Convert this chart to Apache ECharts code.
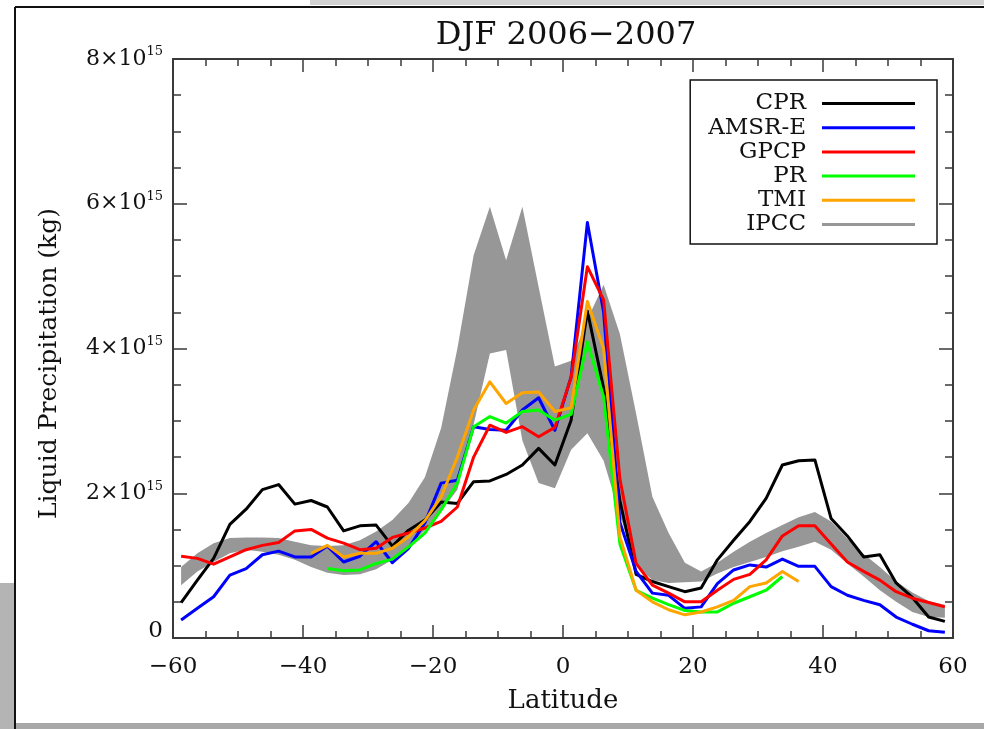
<!DOCTYPE html>
<html>
<head>
<meta charset="utf-8">
<script src="https://cdn.jsdelivr.net/npm/echarts@6/dist/echarts.min.js"></script>
<style>html,body{margin:0;padding:0;background:#fff;}#c{width:984px;height:729px;}</style>
</head>
<body>
<div id="c"></div>
<script>
// Latitude bin centres (degrees)
const latitudes = [-58.75,-56.25,-53.75,-51.25,-48.75,-46.25,-43.75,-41.25,-38.75,-36.25,-33.75,-31.25,-28.75,-26.25,-23.75,-21.25,-18.75,-16.25,-13.75,-11.25,-8.75,-6.25,-3.75,-1.25,1.25,3.75,6.25,8.75,11.25,13.75,16.25,18.75,21.25,23.75,26.25,28.75,31.25,33.75,36.25,38.75,41.25,43.75,46.25,48.75,51.25,53.75,56.25,58.75];
// Values in units of 10^15 kg
const cpr  = [0.49,0.80,1.10,1.57,1.78,2.05,2.12,1.85,1.90,1.81,1.48,1.55,1.56,1.27,1.49,1.63,1.88,1.86,2.16,2.17,2.26,2.39,2.62,2.39,3.01,4.52,3.45,1.90,0.88,0.78,0.71,0.64,0.69,1.08,1.35,1.61,1.93,2.39,2.45,2.46,1.65,1.41,1.12,1.15,0.76,0.56,0.29,0.23];
const amsre = [0.25,0.41,0.57,0.87,0.96,1.15,1.20,1.12,1.12,1.27,1.05,1.13,1.33,1.04,1.24,1.59,2.14,2.18,2.92,2.88,2.87,3.15,3.32,2.87,3.61,5.74,4.50,1.60,0.92,0.62,0.59,0.41,0.43,0.75,0.94,1.01,0.98,1.09,0.99,0.99,0.71,0.59,0.52,0.46,0.29,0.19,0.10,0.08];
const gpcp = [1.13,1.10,1.02,1.12,1.22,1.28,1.32,1.48,1.50,1.38,1.31,1.22,1.24,1.39,1.45,1.52,1.61,1.81,2.50,2.94,2.84,2.92,2.78,2.91,3.60,5.13,4.67,2.20,1.03,0.73,0.62,0.50,0.50,0.66,0.81,0.88,1.08,1.41,1.55,1.55,1.30,1.05,0.92,0.80,0.64,0.55,0.49,0.43];
const pr   = [null,null,null,null,null,null,null,null,null,0.96,0.93,0.94,1.03,1.09,1.26,1.45,1.77,2.14,2.92,3.06,2.97,3.13,3.15,3.01,3.09,4.09,3.33,1.30,0.66,0.55,0.46,0.38,0.36,0.36,0.48,0.57,0.66,0.85,null,null,null,null,null,null,null,null,null,null];
const tmi  = [null,null,null,null,null,null,null,null,1.17,1.28,1.12,1.17,1.17,1.24,1.40,1.62,1.95,2.50,3.15,3.54,3.24,3.39,3.40,3.13,3.18,4.65,4.00,1.40,0.66,0.50,0.39,0.32,0.36,0.43,0.52,0.71,0.76,0.92,0.78,null,null,null,null,null,null,null,null,null];
const ipccLow  = [0.73,0.92,1.05,1.17,1.22,1.19,1.15,1.08,0.98,0.90,0.87,0.88,0.95,1.08,1.26,1.49,1.75,2.05,2.95,3.93,3.98,2.73,2.14,2.07,2.60,2.83,2.45,1.70,1.00,0.80,0.76,0.77,0.78,0.89,0.98,1.05,1.12,1.20,1.26,1.33,1.22,1.03,0.85,0.66,0.50,0.36,0.29,0.28];
const ipccHigh = [0.98,1.17,1.31,1.38,1.39,1.39,1.38,1.33,1.28,1.27,1.28,1.35,1.47,1.63,1.87,2.22,2.90,4.00,5.29,5.96,5.22,5.96,4.85,3.75,3.83,4.40,4.88,4.20,3.10,1.95,1.45,1.04,0.92,1.04,1.19,1.33,1.45,1.56,1.67,1.74,1.61,1.37,1.16,0.98,0.78,0.63,0.51,0.46];
const xTicks = [-60,-40,-20,0,20,40,60];
const yTicks = [0,2,4,6,8];

const pts = arr => latitudes.map((x,i)=>[x,arr[i]]).filter(p=>p[1]!==null);

const FONT = 'DejaVu Serif';
const GRAY = '#979797';
const AX = '#3a3a3a';

const chart = echarts.init(document.getElementById('c'), null, {renderer:'canvas'});
function xAx(pos, labels){
  return {type:'value', position:pos, min:-60, max:60, interval:20,
    axisLine:{show:true, onZero:false, lineStyle:{color:AX, width:2}},
    axisTick:{show:true, inside:true, length:13, lineStyle:{color:AX, width:1.5}},
    minorTick:{show:true, splitNumber:4, length:7, lineStyle:{color:AX, width:1.5}},
    splitLine:{show:false}, minorSplitLine:{show:false},
    axisLabel:{show:labels, margin:18, color:'#111', fontFamily:FONT, fontSize:23,
      formatter: v => xTicks.includes(v) ? (v<0 ? '\u2212'+Math.abs(v) : String(v)) : ''},
    name: labels ? 'Latitude' : '', nameLocation:'middle', nameGap:50,
    nameTextStyle:{fontFamily:FONT, fontSize:26, color:'#111'}};
}
function yAx(pos, labels){
  return {type:'value', position:pos, min:0, max:8, interval:2,
    axisLine:{show:true, onZero:false, lineStyle:{color:AX, width:2}},
    axisTick:{show:true, inside:true, length:14, lineStyle:{color:AX, width:1.5}},
    minorTick:{show:true, splitNumber:4, length:8, lineStyle:{color:AX, width:1.5}},
    splitLine:{show:false}, minorSplitLine:{show:false},
    axisLabel:{show:labels, margin:10, color:'#111', fontFamily:FONT,
      formatter: v => yTicks.includes(v) ? (v===0 ? '{z|0}' : '{b|'+v+'\u00d710}{s|15}') : '',
      rich:{
        b:{fontFamily:FONT, fontSize:22, color:'#111'},
        s:{fontFamily:FONT, fontSize:13, color:'#111', padding:[0,0,14,0]},
        z:{fontFamily:FONT, fontSize:23, color:'#111', padding:[0,0,14,0]}
      }},
    name: labels ? 'Liquid Precipitation (kg)' : '', nameLocation:'middle', nameGap:111,
    nameTextStyle:{fontFamily:FONT, fontSize:25, color:'#111', padding:[0,30,0,0]}};
}
function line(name, arr, color){
  return {name, type:'line', data:pts(arr), xAxisIndex:0, yAxisIndex:0, symbol:'none',
    lineStyle:{color, width:3, join:'round'}, itemStyle:{color}, z:3, connectNulls:false};
}
const option = {
  animation:false,
  backgroundColor:'#fff',
  title:{text:'DJF 2006\u22122007', left:561, top:15, textAlign:'center',
    textStyle:{fontFamily:FONT, fontSize:32, fontWeight:'normal', color:'#111'}},
  grid:{left:173, right:31, top:59, bottom:91, containLabel:false},
  xAxis:[xAx('bottom', true), xAx('top', false)],
  yAxis:[yAx('left', true), yAx('right', false)],
  legend:{orient:'vertical', right:47, top:80, align:'right', icon:'rect',
    padding:[12,22,8,18], itemGap:1.2, itemWidth:93, itemHeight:3,
    backgroundColor:'#fff', borderColor:'#111', borderWidth:1.5,
    textStyle:{fontFamily:FONT, fontSize:23, color:'#111', lineHeight:23, padding:[0,11,0,0]},
    data:[
      {name:'CPR'},{name:'AMSR-E'},{name:'GPCP'},{name:'PR'},{name:'TMI'},
      {name:'IPCC', itemStyle:{color:GRAY}}
    ]},
  series:[
    {name:'IPCC', type:'custom', z:1, silent:true, itemStyle:{color:GRAY},
      data: latitudes.map((x,i)=>[x, ipccLow[i], ipccHigh[i]]),
      encode:{x:0, y:[1,2]},
      renderItem:function(params, api){
        if (params.dataIndex !== 0) return null;
        const up = latitudes.map((x,i)=>api.coord([x, ipccHigh[i]]));
        const lo = latitudes.map((x,i)=>api.coord([x, ipccLow[i]])).reverse();
        return {type:'polygon', shape:{points: up.concat(lo)}, style:{fill:GRAY}};
      }},
    line('CPR', cpr, '#000000'),
    line('AMSR-E', amsre, '#0000ff'),
    line('GPCP', gpcp, '#ff0000'),
    line('PR', pr, '#00ff00'),
    line('TMI', tmi, '#ffa500')
  ],
  graphic:[
    {type:'rect', shape:{x:0, y:583, width:14, height:146}, style:{fill:'#b4b4b4'}, silent:true},
    {type:'rect', shape:{x:310, y:0, width:674, height:5}, style:{fill:'#d2d2d2'}, silent:true},
    {type:'rect', shape:{x:14, y:723, width:970, height:6}, style:{fill:'#a8a8a8'}, silent:true},
    {type:'line', shape:{x1:15, y1:7, x2:984, y2:7}, style:{stroke:'#111', lineWidth:2}, silent:true},
    {type:'line', shape:{x1:15, y1:7, x2:15, y2:729}, style:{stroke:'#111', lineWidth:2}, silent:true}
  ]
};
chart.setOption(option);
</script>
</body>
</html>
